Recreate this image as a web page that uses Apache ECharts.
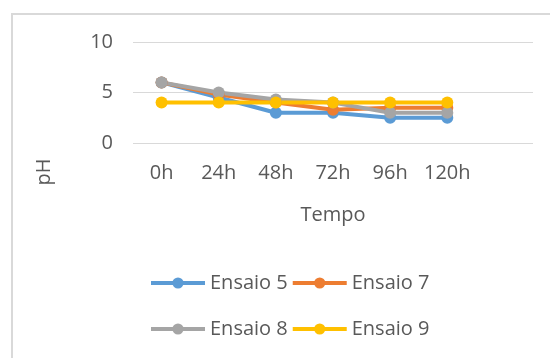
<!DOCTYPE html>
<html>
<head>
<meta charset="utf-8">
<script src="https://cdn.jsdelivr.net/npm/echarts@6/dist/echarts.min.js"></script>
<style>
html,body{margin:0;padding:0;background:#fff;}
#c{width:550px;height:358px;}
</style>
</head>
<body>
<div id="c"></div>
<script>
const categories = ['0h', '24h', '48h', '72h', '96h', '120h', ''];
const ensaio5 = [6, 4.5, 3, 3, 2.5, 2.5, null];
const ensaio7 = [6, 4.8, 4, 3.3, 3.5, 3.5, null];
const ensaio8 = [6, 5, 4.3, 4, 3, 3, null];
const ensaio9 = [4, 4, 4, 4, 4, 4, null];
const seriesNames = ['Ensaio 5', 'Ensaio 7', 'Ensaio 8', 'Ensaio 9'];
const yTicks = [0, 5, 10];

const colors = ['#5B9BD5', '#ED7D31', '#A5A5A5', '#FFC000'];
const font = 'Open Sans';
const txt = '#595959';
const fs = 20;

function mkSeries(name, data, color) {
  return {
    name: name, type: 'line', data: data,
    symbol: 'circle', symbolSize: 12, showAllSymbol: true,
    lineStyle: { width: 4, color: color },
    itemStyle: { color: color },
    emphasis: { disabled: true },
    animation: false
  };
}

const chart = echarts.init(document.getElementById('c'));
const legendCommon = {
  left: 149, padding: 0, itemWidth: 54, itemHeight: 14, itemGap: 3,
  lineStyle: { width: 4 },
  textStyle: { color: txt, fontFamily: font, fontSize: fs },
  selectedMode: false
};
chart.setOption({
  backgroundColor: '#fff',
  color: colors,
  animation: false,
  grid: { left: 133, right: 17, top: 42, bottom: 215 },
  xAxis: {
    type: 'category', data: categories, boundaryGap: true,
    axisLine: { show: false }, axisTick: { show: false },
    axisLabel: { color: txt, fontFamily: font, fontSize: fs, margin: 20, interval: 0 },
    name: 'Tempo', nameLocation: 'middle', nameGap: 62,
    nameTextStyle: { color: txt, fontFamily: font, fontSize: fs }
  },
  yAxis: {
    type: 'value', min: yTicks[0], max: yTicks[yTicks.length - 1], interval: yTicks[1] - yTicks[0],
    axisLine: { show: false }, axisTick: { show: false },
    axisLabel: { color: txt, fontFamily: font, fontSize: fs, margin: 20 },
    splitLine: { lineStyle: { color: '#d9d9d9', width: 1 } }
  },
  legend: [
    Object.assign({ top: 273, data: [seriesNames[0], seriesNames[1]] }, legendCommon),
    Object.assign({ top: 319, data: [seriesNames[2], seriesNames[3]] }, legendCommon)
  ],
  graphic: [
    { type: 'rect', shape: { x: 12, y: 14, width: 600, height: 400 },
      style: { fill: 'none', stroke: '#d9d9d9', lineWidth: 2 }, silent: true },
    { type: 'text', x: 44, y: 172, rotation: Math.PI / 2,
      style: { text: 'pH', fill: txt, font: fs + 'px "' + font + '"', align: 'center', verticalAlign: 'middle' } }
  ],
  series: [
    mkSeries(seriesNames[0], ensaio5, colors[0]),
    mkSeries(seriesNames[1], ensaio7, colors[1]),
    mkSeries(seriesNames[2], ensaio8, colors[2]),
    mkSeries(seriesNames[3], ensaio9, colors[3])
  ]
});
</script>
</body>
</html>
